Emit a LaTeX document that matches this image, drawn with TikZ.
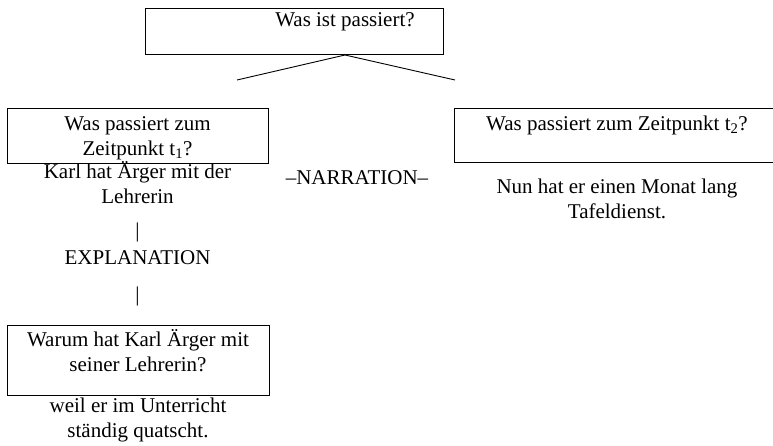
\documentclass[tikz,border=0pt]{standalone}
\usepackage{fontspec}
\setmainfont{Liberation Serif}
\begin{document}
\begin{tikzpicture}[x=1pt,y=-1pt,
  box/.style={draw, line width=1pt, inner sep=0pt},
  txt/.style={align=center, inner sep=0pt, font=\fontsize{21}{25}\selectfont},
  tree/.style={line width=0.9pt}]
\useasboundingbox (0,0) rectangle (773,445);
\clip (0,0) rectangle (773,445);
% top question
\node[box, minimum width=298, minimum height=46] (top) at (294,31) {};
\node[txt] (toptxt) at (345,22) {Was ist passiert?};
\coordinate (apex) at (345,55);
\coordinate (lend) at (237,80);
\coordinate (rend) at (455,80);
\draw[tree] (lend) -- (apex) -- (rend);
% left branch: time point 1
\node[box, minimum width=261, minimum height=55] (t1) at (137.5,135.5) {};
\node[txt] (t1txt) at (137.5,138) {Was passiert zum\\Zeitpunkt t\textsubscript{1}?};
\node[txt] (karl) at (137.5,183) {Karl hat Ärger mit der\\Lehrerin};
\node[txt] (bar1) at (137.5,232) {|};
\node[txt] (expl) at (137.5,258) {EXPLANATION};
\node[txt] (bar2) at (137.5,296) {|};
% explanation question
\node[box, minimum width=262, minimum height=70] (why) at (138,360) {};
\node[txt] (whytxt) at (138,351) {Warum hat Karl Ärger mit\\seiner Lehrerin?};
\node[txt] (weil) at (138,420) {weil er im Unterricht\\ständig quatscht.};
% narration relation
\node[txt] (narr) at (357,178) {–NARRATION–};
% right branch: time point 2
\node[box, minimum width=330, minimum height=54] (t2) at (619,135) {};
\node[txt] (t2txt) at (617,125) {Was passiert zum Zeitpunkt t\textsubscript{2}?};
\node[txt] (nun) at (617,198.5) {Nun hat er einen Monat lang\\Tafeldienst.};
\end{tikzpicture}
\end{document}
